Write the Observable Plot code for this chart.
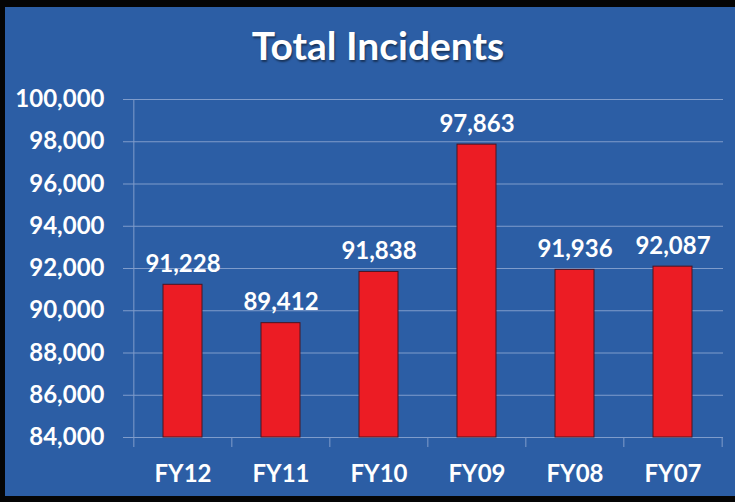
<!DOCTYPE html>
<html>
<head>
<meta charset="utf-8">
<script src="https://cdn.jsdelivr.net/npm/d3@7"></script>
<script src="https://cdn.jsdelivr.net/npm/@observablehq/plot@0.6"></script>
<style>
  html, body { margin: 0; padding: 0; background: #000; }
  #wrap { position: relative; width: 735px; height: 502px; background: #050505; overflow: hidden; }
  #panel { position: absolute; left: 5px; top: 7px; width: 730px; height: 489px; background: #2c5ea5; }
  #title { position: absolute; left: 0; top: 0; width: 730px; height: 76px; line-height: 76px;
           padding-left: 16px; box-sizing: border-box; text-align: center; color: #fff;
           font-family: Lato, "Open Sans", sans-serif; font-weight: 700; font-size: 39px;
           text-shadow: 1px 2px 2px rgba(0,0,0,0.45); }
  #chart { position: absolute; left: 0; top: 70px; }
  #chart svg { background: transparent; overflow: visible; }
</style>
</head>
<body>
<div id="wrap"><div id="panel"><div id="title">Total Incidents</div><div id="chart"></div></div></div>
<script>
const categories = ["FY12", "FY11", "FY10", "FY09", "FY08", "FY07"];
const incidents = [91228, 89412, 91838, 97863, 91936, 92087];
const yTicks = [84000, 86000, 88000, 90000, 92000, 94000, 96000, 98000, 100000];

const data = categories.map((c, i) => ({ year: c, value: incidents[i] }));

const W = 730, H = 419, ML = 128, MR = 12, MT = 22, MB = 59;
const step = (W - ML - MR) / categories.length;
const gridColor = "#7f9ccb";
const font = "Lato, 'Open Sans', sans-serif";

const chart = Plot.plot({
  width: W, height: H,
  marginLeft: ML, marginRight: MR, marginTop: MT, marginBottom: MB,
  style: { background: "transparent", fontFamily: font, color: "#fff" },
  x: { domain: categories, paddingInner: 0.6, paddingOuter: 0.3, label: null },
  y: { domain: [84000, 100000], label: null },
  marks: [
    Plot.gridY(yTicks, { stroke: gridColor, strokeOpacity: 1, strokeWidth: 1 }),
    Plot.axisY({ ticks: yTicks, tickFormat: d3.format(","), tickSize: 10, tickPadding: 19,
      stroke: gridColor, strokeOpacity: 1, fill: "#fff", fontSize: 24, fontWeight: 700, label: null }),
    Plot.ruleX([categories[0]], { x: d => d, y1: 84000, y2: 100000, dx: -step / 2, stroke: gridColor }),
    Plot.axisX({ tickSize: 10, tickFormat: () => "", stroke: gridColor, strokeOpacity: 1, dx: -step / 2, label: null }),
    Plot.axisX({ ticks: [categories[categories.length - 1]], tickSize: 10, tickFormat: () => "", stroke: gridColor, strokeOpacity: 1, dx: step / 2, label: null }),
    Plot.axisX({ tickSize: 0, tickPadding: 27, fill: "#fff", fontSize: 24, fontWeight: 700, label: null }),
    Plot.barY(data, { x: "year", y1: 84000, y2: "value", fill: "#ec1c24", stroke: "#4a1422", strokeWidth: 1 }),
    Plot.text(data, { x: "year", y: "value", text: d => d3.format(",")(d.value), lineAnchor: "bottom",
      dy: -13, fill: "#fff", fontSize: 24, fontWeight: 700 })
  ]
});
document.getElementById("chart").appendChild(chart);
</script>
</body>
</html>
